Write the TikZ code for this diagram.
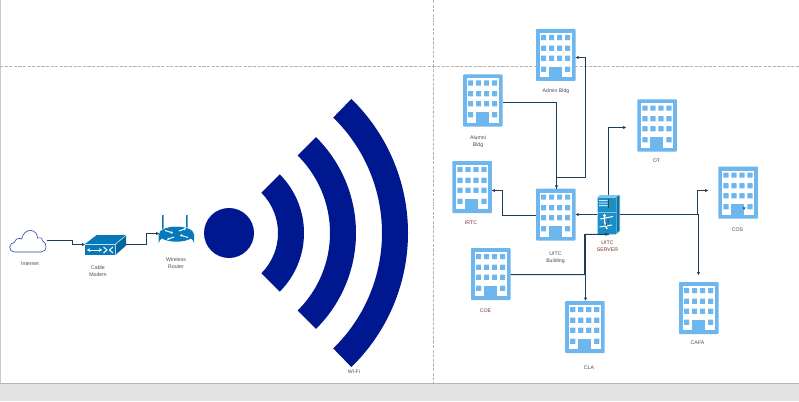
\documentclass[tikz,border=0pt]{standalone}
\usepackage{fontspec}
\setmainfont{Liberation Sans}
\usetikzlibrary{arrows.meta}
\definecolor{bldgblue}{HTML}{6DB6EE}
\definecolor{wirecol}{HTML}{1E3D58}
\definecolor{wifiblue}{HTML}{00188F}
\definecolor{framegray}{HTML}{B4B4B4}
\definecolor{bandgray}{HTML}{E3E3E3}
\definecolor{ciscoblue}{HTML}{0779BA}
\definecolor{srvblue}{HTML}{1B8EC8}
\definecolor{srvlight}{HTML}{7CC8E8}
\definecolor{labelcol}{HTML}{4A4A58}
\definecolor{labelred}{HTML}{7A3028}
\definecolor{cloudcol}{HTML}{2F44A8}
\tikzset{
  bldg/.style={draw=none,fill=bldgblue,rounded corners=0.8pt,minimum width=39.5pt,minimum height=52pt,inner sep=0pt},
  iconbox/.style={draw=none,inner sep=0pt},
  wire/.style={draw=wirecol,line width=1pt,-{Stealth[length=3.2pt,width=3.4pt]}},
  lbl/.style={inner sep=0pt,align=center,text=labelcol,font=\fontsize{5.2}{7}\selectfont},
  lblred/.style={lbl,text=labelred},
  guide/.style={draw=framegray,line width=0.85pt,dash pattern=on 3.2pt off 1.4pt},
  wifi/.style={fill=wifiblue,draw=none},
}
\newcommand{\bldgicon}[3]{%
  \begin{scope}[shift={(#2,#3)}]
    \node[bldg] (#1) at (19.75,26) {};
    \fill[white] (4,4) rectangle (35.5,48);
    \foreach \wx in {5,13,21,29} {
      \foreach \wy in {6,16.7,26.7} {
        \fill[bldgblue,rounded corners=0.4pt] (\wx,\wy) rectangle ++(5.2,5.2);
      }
    }
    \fill[bldgblue,rounded corners=0.4pt] (5,37.7) rectangle ++(5.2,5.2);
    \fill[bldgblue,rounded corners=0.4pt] (29,37.7) rectangle ++(5.2,5.2);
    \fill[bldgblue] (13,37.7) rectangle (26,48.5);
  \end{scope}}
\newcommand{\wifiarc}[3]{%
  \fill[wifi] (221,233) ++(-#3:#2) arc[start angle=-#3,end angle=#3,radius=#2]
     -- ++(180+#3:#2-#1) arc[start angle=#3,end angle=-#3,radius=#1] -- cycle;}
\begin{document}
\begin{tikzpicture}[x=1pt,y=-1pt]
\useasboundingbox (0,0) rectangle (799,401);
\fill[white] (0,0) rectangle (799,401);
% frame
\fill[bandgray] (0,383) rectangle (799,401);
\draw[framegray,line width=0.9pt] (0,383.3) -- (799,383.3);
\draw[framegray!70,line width=1pt] (0.5,0) -- (0.5,383);
\draw[guide] (0,66.5) -- (799,66.5);
\draw[guide] (433.5,0) -- (433.5,383);

% wifi
\node[wifi,circle,minimum size=50pt,inner sep=0pt] (wifidot) at (229,233) {};
\wifiarc{57}{83}{45}
\wifiarc{109}{135}{45.3}
\wifiarc{161}{187}{45.8}
\node[lbl] (wifilabel) at (354,372) {Wi-Fi};

% cloud
\node[iconbox,minimum width=37pt,minimum height=22pt] (internet) at (28,240.5) {};
\draw[cloudcol,line width=0.6pt,fill=white]
  (15,252) .. controls (11,252) and (9.5,249) .. (9.7,247)
  .. controls (9.8,244.5) and (12,242.5) .. (14.5,242.5)
  .. controls (15,239) and (19,237.5) .. (21.5,239)
  .. controls (23,233) and (27,230) .. (31,230.5)
  .. controls (35,231) and (37.5,234) .. (37.5,238)
  .. controls (39.5,236.5) and (42.5,238) .. (42.5,241)
  .. controls (45,242) and (46,244) .. (46,246.5)
  .. controls (46,250) and (44,252) .. (41,252) -- cycle;
\node[lbl] (internetlabel) at (30,264) {Internet};

% modem
\node[iconbox,minimum width=41pt,minimum height=20pt] (modem) at (105.5,245) {};
\fill[ciscoblue] (85,244) -- (96.7,235) -- (126,235) -- (115,244) -- cycle;
\fill[ciscoblue] (85,244.6) rectangle (115,255);
\fill[ciscoblue!85!black] (115.5,244.4) -- (126,235.6) -- (126,245.5) -- (115.5,255) -- cycle;
\draw[white!70!ciscoblue,line width=0.5pt] (85,244.4) -- (115.3,244.4) -- (126,235.3) (115.3,244.4) -- (115.3,255);
\draw[white,line width=1pt,{Stealth[length=3pt,width=3.8pt]}-{Stealth[length=3pt,width=3.8pt]}] (87,250) -- (102,250);
\draw[white,line width=1pt] (103.5,247) -- (107,250) -- (103.5,253) (113,247) -- (109.5,250) -- (113,253);

% router
\node[iconbox,minimum width=36pt,minimum height=37pt] (router) at (177,233.5) {};
\fill[ciscoblue] (162,215) rectangle (163.6,232) (186,215) rectangle (187.6,232);
\fill[ciscoblue] (158.7,234) -- (158.7,243) arc[start angle=180,end angle=360,x radius=17.7,y radius=7.7] -- (194.1,234) -- cycle;
\fill[ciscoblue] (176.4,234) ellipse[x radius=17.7,y radius=7.7];
\draw[white,line width=0.4pt] (158.7,234) arc[start angle=180,end angle=360,x radius=17.7,y radius=7.7];
\draw[white,line width=1pt,-{Stealth[length=2.2pt,width=2.8pt]}] (165,230.5) -- (173,233);
\draw[white,line width=1pt,-{Stealth[length=2.2pt,width=2.8pt]}] (188,237.5) -- (180,235);
\draw[white,line width=1pt,-{Stealth[length=2.2pt,width=2.8pt]}] (174,237) -- (167,239.5);
\draw[white,line width=1pt,-{Stealth[length=2.2pt,width=2.8pt]}] (179,231) -- (186,228.5);
\node[lbl] (modemlabel) at (98,271) {Cable\\Modem};
\node[lbl] (routerlabel) at (176,263.5) {Wireless\\Router};

% buildings
\bldgicon{admin}{536}{29}
\bldgicon{alumni}{463}{74.5}
\bldgicon{irtc}{452.3}{161}
\bldgicon{uitc}{536}{188.5}
\bldgicon{coe}{471}{248}
\bldgicon{cla}{565.2}{301}
\bldgicon{cafa}{679}{282}
\bldgicon{ot}{637.3}{99.5}
\bldgicon{cos}{718.3}{166.5}

% server
\node[iconbox,minimum width=23pt,minimum height=39pt] (server) at (608.5,214.5) {};
\fill[srvlight] (597.3,197.5) -- (600,195) -- (620,195) -- (620,231) -- (616,234.5) -- (597.3,234.5) -- cycle;
\fill[srvblue] (598,198) rectangle (615.8,234);
\fill[srvblue!80!black] (616.5,197) -- (619.4,195.5) -- (619.4,230.5) -- (616.5,233.5) -- cycle;
\draw[srvlight,line width=0.6pt] (597.6,212.5) -- (616,212.5);
\fill[white!80!srvblue] (599,200) rectangle (607.5,201.2) (599,202.5) rectangle (607.5,203.7) (599,205) rectangle (607.5,206.2);
\fill[black!75] (608,199) rectangle (609.2,207.5);
\draw[white,line width=1pt] (600,219) -- (613,216.5) (599.5,227) -- (612,225);
\draw[white,line width=1.4pt] (604.5,216) -- (604.5,222) -- (607,229);
\fill[white] (604.5,215.5) circle[radius=1.6pt];
\fill[black!70] (607.5,219) rectangle (608.7,223.5) (605.5,223.5) rectangle (606.8,226);

% connectors
\draw[wire] (internet.east) -- (72.5,240.5) -- (72.5,244.5) -- (modem.west |- 0,244.5);
\draw[wire] (modem.east |- 0,244.5) -- (146.5,244.5) -- (146.5,233.5) -- (159,233.5);
\draw[wire] (alumni.east |- 0,102.5) -| (uitc.north -| 556.5,0);
\draw[wire] (556.5,188.5) |- (585.5,177.5) |- (admin.east |- 0,57.5);
\draw[wire] (uitc.west |- 0,215.5) -| (502.5,190.5) -- (irtc.east |- 0,190.5);
\draw[wire] (server.west) -- (uitc.east |- server.west);
\draw[wire] (608.5,195) |- (626,127.5);
\draw[wire] (server.east) -| (697.5,190.5) -- (708,190.5);
\draw[wire] (server.east) -| (698.5,275);
\draw[wire] (608.5,234.5) -- (585.5,234.5) -- (585.5,300.5);
\draw[wire] (coe.east |- 0,274.5) -| (584.5,234.5) -- (server.south);

% stray arrowhead inside the COS door
\fill[wirecol] (742.6,207.3) -- (745.6,207.3) -- (744.1,209.8) -- cycle;

% labels
\node[lbl] (adminlabel) at (556,91) {Admin Bldg};
\node[lbl] (alumnilabel) at (478,141.5) {Alumni\\Bldg};
\node[lblred] (irtclabel) at (471,222.5) {IRTC};
\node[lbl] (uitclabel) at (555.5,257.5) {UITC\\Building};
\node[lblred] (serverlabel) at (607.5,246.5) {UITC\\SERVER};
\node[lblred] (coelabel) at (485.5,311) {COE};
\node[lbl] (clalabel) at (589,368) {CLA};
\node[lbl] (cafalabel) at (697.5,343) {CAFA};
\node[lbl] (otlabel) at (656.5,161) {OT};
\node[lbl] (coslabel) at (737.5,230) {COS};
\end{tikzpicture}
\end{document}
